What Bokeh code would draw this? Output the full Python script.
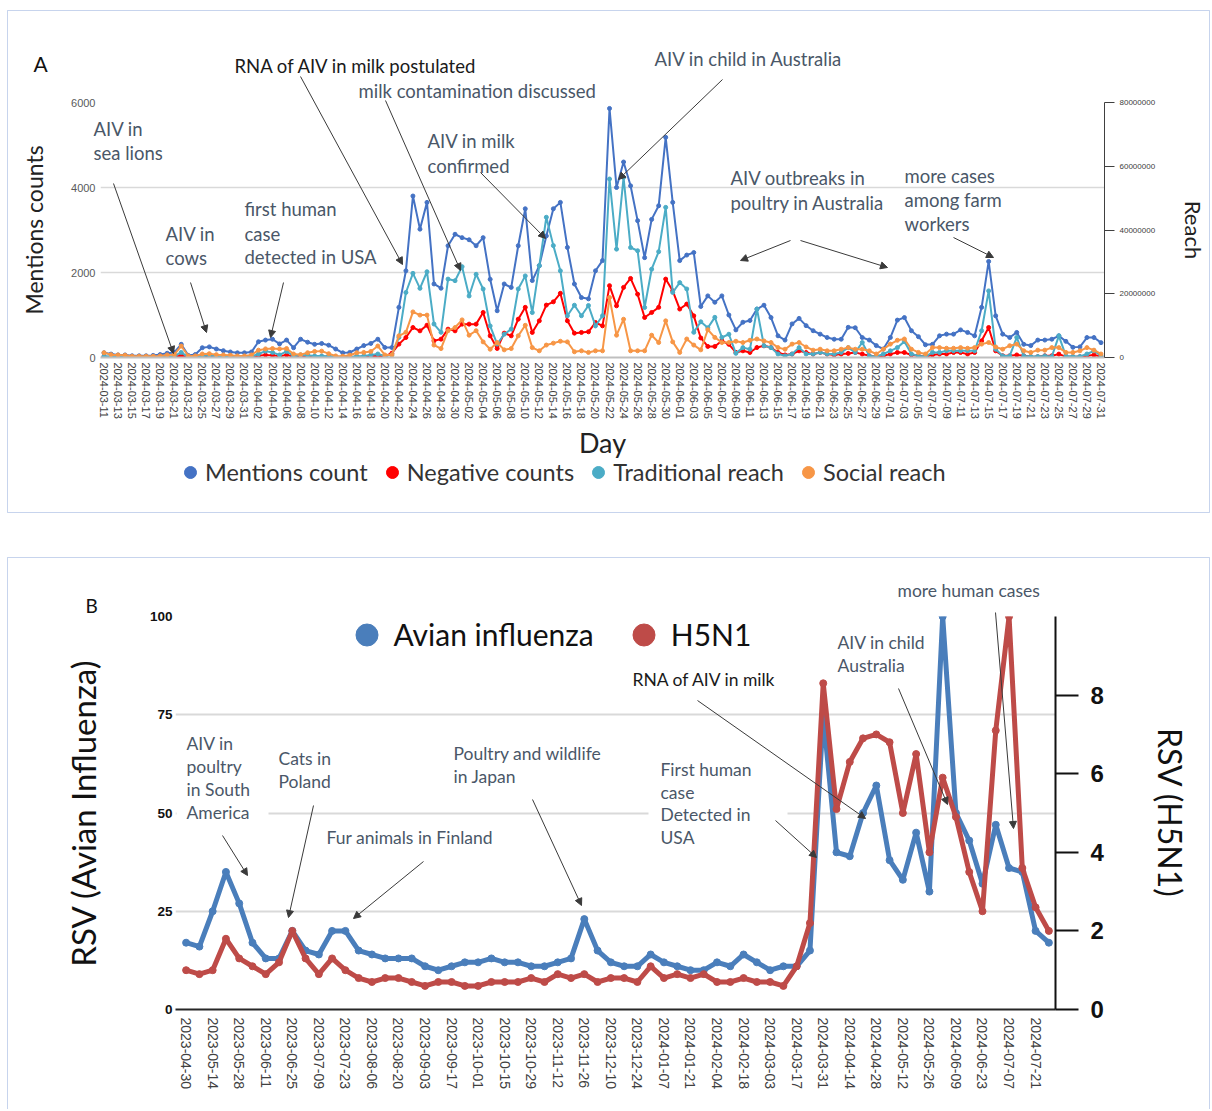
import pandas as pd
from bokeh.plotting import figure
from bokeh.models import (Range1d, LinearAxis, FixedTicker, Label, Arrow, NormalHead,
                          Legend, LegendItem, ColumnDataSource, BasicTickFormatter, BoxAnnotation)
from bokeh.embed import file_html
from bokeh.resources import INLINE

# ---------------- DATA: panel A (daily, 2024-03-11 .. 2024-07-31) ----------------
days_a = [d.strftime("%Y-%m-%d") for d in pd.date_range("2024-03-11", "2024-07-31", freq="D")]

mentions_count = [
    110, 80, 60, 60, 40, 40, 40, 50, 70, 100, 120, 310, 50, 70, 230, 250, 200, 160, 130, 110,
    110, 130, 370, 410, 430, 320, 410, 230, 430, 360, 310, 330, 290, 200, 110, 120, 200, 280, 330, 430,
    235, 235, 1180, 2040, 3800, 3020, 3650, 1730, 1630, 2630, 2900, 2820, 2770, 2630, 2820, 1840, 1100, 1730, 1650, 2630,
    3500, 1810, 2160, 2860, 3500, 3650, 2590, 1730, 1410, 1380, 2040, 2280, 5860, 4000, 4600, 4040, 3220, 2350, 3250, 3570,
    5180, 3650, 2280, 2410, 2470, 1200, 1450, 1300, 1450, 1000, 650, 830, 870, 1140, 1230, 940, 510, 410, 790, 920,
    750, 630, 550, 470, 430, 430, 710, 700, 470, 410, 280, 200, 470, 880, 940, 630, 490, 300, 310, 510,
    550, 550, 650, 590, 510, 1180, 2260, 980, 550, 470, 590, 310, 280, 410, 410, 430, 510, 380, 240, 250,
    470, 470, 350]

negative_counts = [
    20, 10, 10, 5, 5, 5, 5, 5, 10, 10, 20, 40, 10, 10, 30, 30, 20, 20, 10, 10,
    10, 20, 40, 60, 50, 30, 60, 20, 30, 30, 20, 20, 20, 10, 10, 10, 20, 20, 30, 40,
    30, 100, 315, 470, 706, 627, 760, 392, 432, 667, 627, 785, 785, 785, 1060, 510, 212, 573, 510, 902,
    1180, 590, 863, 1233, 1310, 1510, 863, 573, 590, 605, 824, 745, 1690, 1216, 1650, 1860, 1490, 941, 1060, 1180,
    1845, 1570, 1140, 1257, 980, 460, 260, 260, 392, 310, 120, 157, 118, 235, 275, 235, 118, 60, 80, 157,
    118, 80, 118, 80, 60, 80, 96, 118, 80, 40, 20, 40, 80, 118, 118, 60, 40, 20, 60, 80,
    80, 118, 118, 80, 118, 392, 706, 157, 40, 40, 60, 40, 20, 20, 40, 40, 80, 20, 20, 20,
    40, 60, 20]

# reach series, in millions
traditional_reach_m = [
    0.4, 0.3, 0.3, 0.1, 0.1, 0.1, 0.1, 0.1, 0.1, 0.3, 0.4, 1.6, 0.1, 0.1, 0.5, 0.7, 0.4, 0.3, 0.3, 0.1,
    0.1, 0.3, 1.1, 2.0, 1.6, 0.8, 1.9, 0.4, 0.8, 0.7, 0.5, 0.5, 0.4, 0.3, 0.1, 0.1, 0.4, 0.5, 0.8, 1.1,
    0.5, 0.8, 6.3, 20.4, 26.4, 21.7, 26.9, 10.5, 7.9, 24.6, 24.1, 28.5, 19.3, 26.1, 21.5, 9.9, 4.2, 7.3, 8.9, 21.5,
    25.6, 14.1, 28.8, 44.0, 35.1, 27.2, 13.1, 16.4, 13.1, 16.3, 9.9, 13.1, 56.0, 34.0, 56.5, 34.5, 33.5, 15.7, 27.7, 33.2,
    47.1, 20.4, 23.5, 21.5, 7.9, 11.2, 9.3, 12.6, 6.3, 7.3, 1.3, 3.1, 2.6, 15.2, 3.7, 3.1, 1.1, 0.5, 1.1, 3.1,
    1.1, 1.1, 1.6, 1.1, 1.1, 1.6, 3.1, 1.6, 4.7, 0.5, 0.3, 1.1, 2.1, 3.1, 5.0, 1.1, 0.5, 0.3, 1.6, 1.6,
    2.1, 2.1, 2.1, 2.1, 2.1, 8.4, 20.9, 2.6, 0.5, 0.5, 6.3, 0.5, 0.3, 0.3, 0.5, 0.3, 6.8, 0.5, 0.3, 0.3,
    1.1, 2.1, 0.5]

social_reach_m = [
    1.5, 0.9, 0.8, 0.7, 0.4, 0.4, 0.4, 0.4, 0.5, 0.8, 0.9, 3.6, 0.5, 0.5, 1.1, 1.2, 0.9, 0.8, 0.7, 0.5,
    0.5, 0.8, 2.3, 2.7, 2.8, 2.7, 2.8, 1.1, 0.9, 1.5, 1.9, 2.0, 1.2, 0.5, 0.4, 0.7, 1.5, 1.6, 1.9, 3.6,
    0.8, 0.8, 6.8, 7.9, 14.3, 13.3, 13.3, 3.9, 2.8, 8.4, 9.4, 11.8, 7.0, 8.4, 4.9, 2.6, 4.7, 2.4, 2.8, 6.8,
    10.1, 3.1, 2.1, 3.9, 4.5, 5.1, 4.9, 1.8, 2.1, 1.6, 2.1, 2.1, 18.8, 7.0, 12.0, 2.1, 2.1, 2.1, 7.0, 4.7,
    11.5, 4.9, 1.6, 5.8, 3.9, 2.4, 8.7, 6.3, 4.7, 4.7, 5.1, 4.7, 5.4, 5.8, 5.2, 4.7, 3.1, 2.6, 4.2, 4.7,
    3.3, 2.3, 2.6, 2.1, 2.1, 2.6, 3.1, 2.6, 2.6, 2.1, 1.1, 2.6, 4.2, 5.4, 5.8, 2.6, 1.6, 1.1, 3.1, 3.1,
    2.9, 2.9, 3.1, 2.9, 3.1, 4.2, 4.7, 3.3, 2.6, 3.7, 4.2, 2.1, 1.6, 2.3, 2.3, 3.1, 3.1, 1.6, 1.6, 2.1,
    3.1, 2.3, 1.1]

a_left_ticks = [0, 2000, 4000, 6000]
a_right_ticks = [0, 20000000, 40000000, 60000000, 80000000]

# ---------------- DATA: panel B (weekly, 2023-04-30 .. 2024-07-28) ----------------
weeks_b = [d.strftime("%Y-%m-%d") for d in pd.date_range("2023-04-30", "2024-07-28", freq="7D")]

rsv_avian_influenza = [
    17, 16, 25, 35, 27, 17, 13, 13, 20, 15, 14, 20, 20, 15, 14, 13, 13, 13, 11, 10,
    11, 12, 12, 13, 12, 12, 11, 11, 12, 13, 23, 15, 12, 11, 11, 14, 12, 11, 10, 10,
    12, 11, 14, 12, 10, 11, 11, 15, 75, 40, 39, 50, 57, 38, 33, 45, 30, 100, 50, 43,
    32, 47, 36, 35, 20, 17]

rsv_h5n1 = [
    1.0, 0.9, 1.0, 1.8, 1.3, 1.1, 0.9, 1.2, 2.0, 1.3, 0.9, 1.3, 1.0, 0.8, 0.7, 0.8, 0.8, 0.7, 0.6, 0.7,
    0.7, 0.6, 0.6, 0.7, 0.7, 0.7, 0.8, 0.7, 0.9, 0.8, 0.9, 0.7, 0.8, 0.8, 0.7, 1.1, 0.8, 0.9, 0.8, 0.9,
    0.7, 0.7, 0.8, 0.7, 0.7, 0.6, 1.1, 2.2, 8.3, 5.1, 6.3, 6.9, 7.0, 6.8, 5.0, 6.5, 4.0, 5.9, 4.9, 3.5,
    2.5, 7.1, 10.0, 3.6, 2.6, 2.0]

b_left_ticks = [0, 25, 50, 75, 100]
b_right_ticks = [0, 2, 4, 6, 8]

assert len(days_a) == len(mentions_count) == len(negative_counts) == len(traditional_reach_m) == len(social_reach_m)
assert len(weeks_b) == len(rsv_avian_influenza) == len(rsv_h5n1)

# ---------------- styles ----------------
C_MENT, C_NEG, C_TRAD, C_SOC = "#4472C4", "#FF0000", "#4BACC6", "#F79646"
C_AVI, C_H5 = "#4A7EBB", "#BE4B48"
ANN = "#4A5768"
ARR = "#3A3A3A"
FONT = "Lato"
TICKF = "Liberation Sans"
PAGE_W, PAGE_H = 1210, 1109


def abs_style(left, top):
    return {"position": "absolute", "left": f"{left}px", "top": f"{top}px"}


# ================= PANEL A =================
pA = figure(width=1203, height=502, output_backend="svg", toolbar_location=None,
            x_range=Range1d(-0.5, len(days_a) - 0.5), y_range=Range1d(0, 6000),
            min_border_left=93, min_border_right=100, min_border_top=92, min_border_bottom=155,
            styles=abs_style(7, 10))
pA.extra_y_ranges = {"reach": Range1d(0, 80000000)}
pA.outline_line_color = None
pA.xgrid.visible = False
pA.ygrid.ticker = FixedTicker(ticks=a_left_ticks[1:])
pA.ygrid.grid_line_color = "#D9D9D9"
pA.ygrid.grid_line_width = 1.5

srcA = ColumnDataSource(dict(
    x=list(range(len(days_a))), day=days_a,
    mentions=mentions_count, negative=negative_counts,
    trad=[v * 1e6 for v in traditional_reach_m], soc=[v * 1e6 for v in social_reach_m]))

series_a = [("mentions", C_MENT, "default", "Mentions count"),
            ("negative", C_NEG, "default", "Negative counts"),
            ("trad", C_TRAD, "reach", "Traditional reach"),
            ("soc", C_SOC, "reach", "Social reach")]
for col, colr, rng, name in series_a:
    pA.line("x", col, source=srcA, line_color=colr, line_width=2, y_range_name=rng)
    pA.scatter("x", col, source=srcA, size=4, fill_color=colr, line_color=colr, y_range_name=rng)

ya = pA.yaxis[0]
ya.ticker = FixedTicker(ticks=a_left_ticks)
ya.axis_line_color = None
ya.major_tick_line_color = None
ya.major_tick_out = 0
ya.minor_tick_line_color = None
ya.minor_tick_out = 0
ya.major_label_standoff = 5
ya.major_label_text_font = TICKF
ya.major_label_text_font_size = "11px"
ya.major_label_text_color = "#595959"
ya.axis_label = "Mentions counts"
ya.axis_label_text_font = FONT
ya.axis_label_text_font_style = "normal"
ya.axis_label_text_font_size = "23px"
ya.axis_label_text_color = "#222222"
ya.axis_label_standoff = 20

yr = LinearAxis(y_range_name="reach", ticker=FixedTicker(ticks=a_right_ticks),
                formatter=BasicTickFormatter(use_scientific=False))
yr.axis_line_color = "#404040"
yr.major_tick_line_color = "#404040"
yr.major_tick_out = 10
yr.major_tick_in = 0
yr.minor_tick_line_color = None
yr.minor_tick_out = 0
yr.major_label_standoff = 5
yr.major_label_text_font = TICKF
yr.major_label_text_font_size = "8px"
yr.major_label_text_color = "#404040"
yr.axis_label = "Reach"
yr.axis_label_text_font = FONT
yr.axis_label_text_font_style = "normal"
yr.axis_label_text_font_size = "22px"
yr.axis_label_text_color = "#222222"
yr.axis_label_standoff = 22
pA.add_layout(yr, "right")

xa = pA.xaxis[0]
xa.ticker = FixedTicker(ticks=list(range(0, len(days_a), 2)))
xa.major_label_overrides = {i: days_a[i] for i in range(0, len(days_a), 2)}
xa.major_label_orientation = "vertical"
xa.axis_line_color = "#BFBFBF"
xa.axis_line_width = 2
xa.major_tick_line_color = None
xa.major_tick_out = 0
xa.minor_tick_line_color = None
xa.minor_tick_out = 0
xa.major_label_standoff = 5
xa.major_label_text_font = TICKF
xa.major_label_text_font_size = "11px"
xa.major_label_text_color = "#404040"
xa.axis_label = "Day"
xa.axis_label_text_font = FONT
xa.axis_label_text_font_style = "normal"
xa.axis_label_text_font_size = "27px"
xa.axis_label_text_color = "#222222"
xa.axis_label_standoff = 4

# ================= PANEL B =================
B_X0, B_X1 = -0.8, 65.5
pB = figure(width=1203, height=552, output_backend="svg", toolbar_location=None,
            x_range=Range1d(B_X0, B_X1), y_range=Range1d(0, 100),
            min_border_left=168, min_border_right=155, min_border_top=59, min_border_bottom=100,
            styles=abs_style(7, 557))
pB.extra_y_ranges = {"h5n1": Range1d(0, 10)}
pB.outline_line_color = None
pB.xgrid.visible = False
pB.ygrid.ticker = FixedTicker(ticks=b_left_ticks[1:])
pB.ygrid.grid_line_color = "#D9D9D9"
pB.ygrid.grid_line_width = 2

srcB = ColumnDataSource(dict(x=list(range(len(weeks_b))), week=weeks_b,
                             avian=rsv_avian_influenza, h5=rsv_h5n1))
pB.line("x", "avian", source=srcB, line_color=C_AVI, line_width=5)
scB1 = pB.scatter("x", "avian", source=srcB, size=7, fill_color=C_AVI, line_color=C_AVI)
pB.line("x", "h5", source=srcB, line_color=C_H5, line_width=5, y_range_name="h5n1")
scB2 = pB.scatter("x", "h5", source=srcB, size=7, fill_color=C_H5, line_color=C_H5, y_range_name="h5n1")

yb = pB.yaxis[0]
yb.ticker = FixedTicker(ticks=b_left_ticks)
yb.axis_line_color = None
yb.major_tick_line_color = None
yb.major_tick_out = 0
yb.minor_tick_line_color = None
yb.minor_tick_out = 0
yb.major_label_standoff = 3
yb.major_label_text_font = TICKF
yb.major_label_text_font_style = "bold"
yb.major_label_text_font_size = "13.5px"
yb.major_label_text_color = "#111111"
yb.axis_label = "RSV (Avian Influenza)"
yb.axis_label_text_font = FONT
yb.axis_label_text_font_style = "normal"
yb.axis_label_text_font_size = "33px"
yb.axis_label_text_color = "#111111"
yb.axis_label_standoff = 44

yb2 = LinearAxis(y_range_name="h5n1", ticker=FixedTicker(ticks=b_right_ticks))
yb2.axis_line_color = "#111111"
yb2.axis_line_width = 2
yb2.major_tick_line_color = "#111111"
yb2.major_tick_line_width = 2
yb2.major_tick_out = 23
yb2.major_tick_in = 0
yb2.minor_tick_line_color = None
yb2.minor_tick_out = 0
yb2.major_label_standoff = 12
yb2.major_label_text_font = TICKF
yb2.major_label_text_font_style = "bold"
yb2.major_label_text_font_size = "24px"
yb2.major_label_text_color = "#111111"
yb2.axis_label = "RSV (H5N1)"
yb2.axis_label_text_font = FONT
yb2.axis_label_text_font_style = "normal"
yb2.axis_label_text_font_size = "32px"
yb2.axis_label_text_color = "#111111"
yb2.axis_label_standoff = 44
pB.add_layout(yb2, "right")

xb = pB.xaxis[0]
xb.ticker = FixedTicker(ticks=list(range(0, len(weeks_b), 2)))
xb.major_label_overrides = {i: weeks_b[i] for i in range(0, len(weeks_b), 2)}
xb.major_label_orientation = "vertical"
xb.axis_line_color = "#262626"
xb.axis_line_width = 2
xb.major_tick_line_color = None
xb.major_tick_out = 0
xb.minor_tick_line_color = None
xb.minor_tick_out = 0
xb.major_label_standoff = 8
xb.major_label_text_font = TICKF
xb.major_label_text_font_size = "14px"
xb.major_label_text_color = "#404040"

legB = Legend(items=[LegendItem(label="Avian influenza", renderers=[scB1]),
                     LegendItem(label="H5N1", renderers=[scB2])],
              orientation="horizontal", location=(163.5, 347.5),
              glyph_width=55, glyph_height=55, label_standoff=0, spacing=22,
              padding=0, margin=0, border_line_color=None, background_fill_alpha=0,
              label_text_font=FONT, label_text_font_size="30px", label_text_color="#111111",
              label_height=55)
pB.add_layout(legB)

# ================= OVERLAY: boxes, panel letters, legend of A, annotations (page pixels) =================
pO = figure(width=PAGE_W, height=PAGE_H, output_backend="svg", toolbar_location=None,
            x_range=Range1d(0, PAGE_W), y_range=Range1d(PAGE_H, 0),
            x_axis_location=None, y_axis_location=None,
            min_border=0, styles=abs_style(0, 0))
pO.outline_line_color = None
pO.background_fill_alpha = 0
pO.border_fill_alpha = 0
pO.grid.visible = False

# legend of panel A (sits below the x axis, outside panel A's frame); the key glyphs hold no point
nan = float("nan")
legend_items_a = []
for col, colr, rng, name in series_a:
    key = pO.scatter(x=[nan], y=[nan], size=4, fill_color=colr, line_color=colr)
    legend_items_a.append(LegendItem(label=name, renderers=[key]))
legA = Legend(items=legend_items_a, orientation="horizontal", location=(175, PAGE_H - 487),
              glyph_width=30, glyph_height=30, label_standoff=0, spacing=9,
              padding=0, margin=0, border_line_color=None, background_fill_alpha=0,
              label_text_font=FONT, label_text_font_size="23.5px", label_text_color="#333333",
              label_height=30)
pO.add_layout(legA)

# panel boxes
pO.add_layout(BoxAnnotation(left=7, right=PAGE_W - 1, top=10, bottom=512,
                            fill_alpha=0, line_color="#4472C4", line_width=1))
pO.add_layout(BoxAnnotation(left=7, right=PAGE_W - 1, top=557, bottom=1130,
                            fill_alpha=0, line_color="#4472C4", line_width=1))
# white boxes behind text that interrupts the 50-gridline in panel B
pO.add_layout(BoxAnnotation(left=176, right=268, top=800, bottom=824,
                            fill_color="white", fill_alpha=1, line_color=None))
pO.add_layout(BoxAnnotation(left=648, right=787, top=803, bottom=825,
                            fill_color="white", fill_alpha=1, line_color=None))

pO.add_layout(Label(x=33, y=63, text="A", text_font=FONT, text_font_size="21px",
                    text_color="#111111", text_baseline="middle"))
pO.add_layout(Label(x=85, y=605, text="B", text_font=FONT, text_font_size="19px",
                    text_color="#111111", text_baseline="middle"))

ann_a = [
    ("RNA of AIV in milk postulated", 234, 65, "#1A1A1A"),
    ("milk contamination discussed", 358, 90, ANN),
    ("AIV in milk", 427, 140, ANN), ("confirmed", 427, 165, ANN),
    ("AIV in child in Australia", 654, 58, ANN),
    ("AIV in", 93, 128, ANN), ("sea lions", 93, 152, ANN),
    ("AIV in", 165, 233, ANN), ("cows", 165, 257, ANN),
    ("first human", 244, 208, ANN), ("case", 244, 233, ANN), ("detected in USA", 244, 256, ANN),
    ("AIV outbreaks in", 730, 177, ANN), ("poultry in Australia", 730, 202, ANN),
    ("more cases", 904, 175, ANN), ("among farm", 904, 199, ANN), ("workers", 904, 223, ANN),
]
for txt, px, py, colr in ann_a:
    pO.add_layout(Label(x=px, y=py, text=txt, text_font=FONT, text_font_size="18.5px",
                        text_color=colr, text_baseline="middle", text_align="left"))

ann_b = [
    ("AIV in", 186, 743, ANN), ("poultry", 186, 766, ANN),
    ("in South", 186, 789, ANN), ("America", 186, 812, ANN),
    ("Cats in", 278, 758, ANN), ("Poland", 278, 781, ANN),
    ("Fur animals in Finland", 326, 837, ANN),
    ("Poultry and wildlife", 453, 753, ANN), ("in Japan", 453, 776, ANN),
    ("First human", 660, 769, ANN), ("case", 660, 792, ANN),
    ("Detected in", 660, 814, ANN), ("USA", 660, 837, ANN),
    ("RNA of AIV in milk", 632, 679, "#1A1A1A"),
    ("AIV in child", 837, 642, ANN), ("Australia", 837, 665, ANN),
    ("more human cases", 897, 590, ANN),
]
for txt, px, py, colr in ann_b:
    pO.add_layout(Label(x=px, y=py, text=txt, text_font=FONT, text_font_size="17.5px",
                        text_color=colr, text_baseline="middle", text_align="left"))

arrows = [
    # panel A
    ((113, 183), (173, 353)), ((190, 282), (206, 332)), ((283, 282), (270, 337)),
    ((300, 76), (402, 264)), ((385, 100), (460, 270)), ((480, 172), (545, 238)),
    ((722, 79), (618, 179)), ((790, 240), (740, 260)), ((800, 240), (887, 267)),
    ((953, 237), (993, 257)),
    # panel B
    ((222, 835), (247, 875)), ((313, 805), (288, 917)), ((423, 861), (353, 918)),
    ((532, 799), (581, 905)), ((775, 820), (816, 857)), ((697, 700), (865, 818)),
    ((898, 688), (947, 804)), ((995, 612), (1013, 828)),
]
for (x0, y0), (x1, y1) in arrows:
    pO.add_layout(Arrow(x_start=x0, y_start=y0, x_end=x1, y_end=y1,
                        line_color=ARR, line_width=1,
                        end=NormalHead(size=7, fill_color=ARR, line_color=ARR)))

open("out.html", "w").write(file_html([pA, pB, pO], INLINE))
